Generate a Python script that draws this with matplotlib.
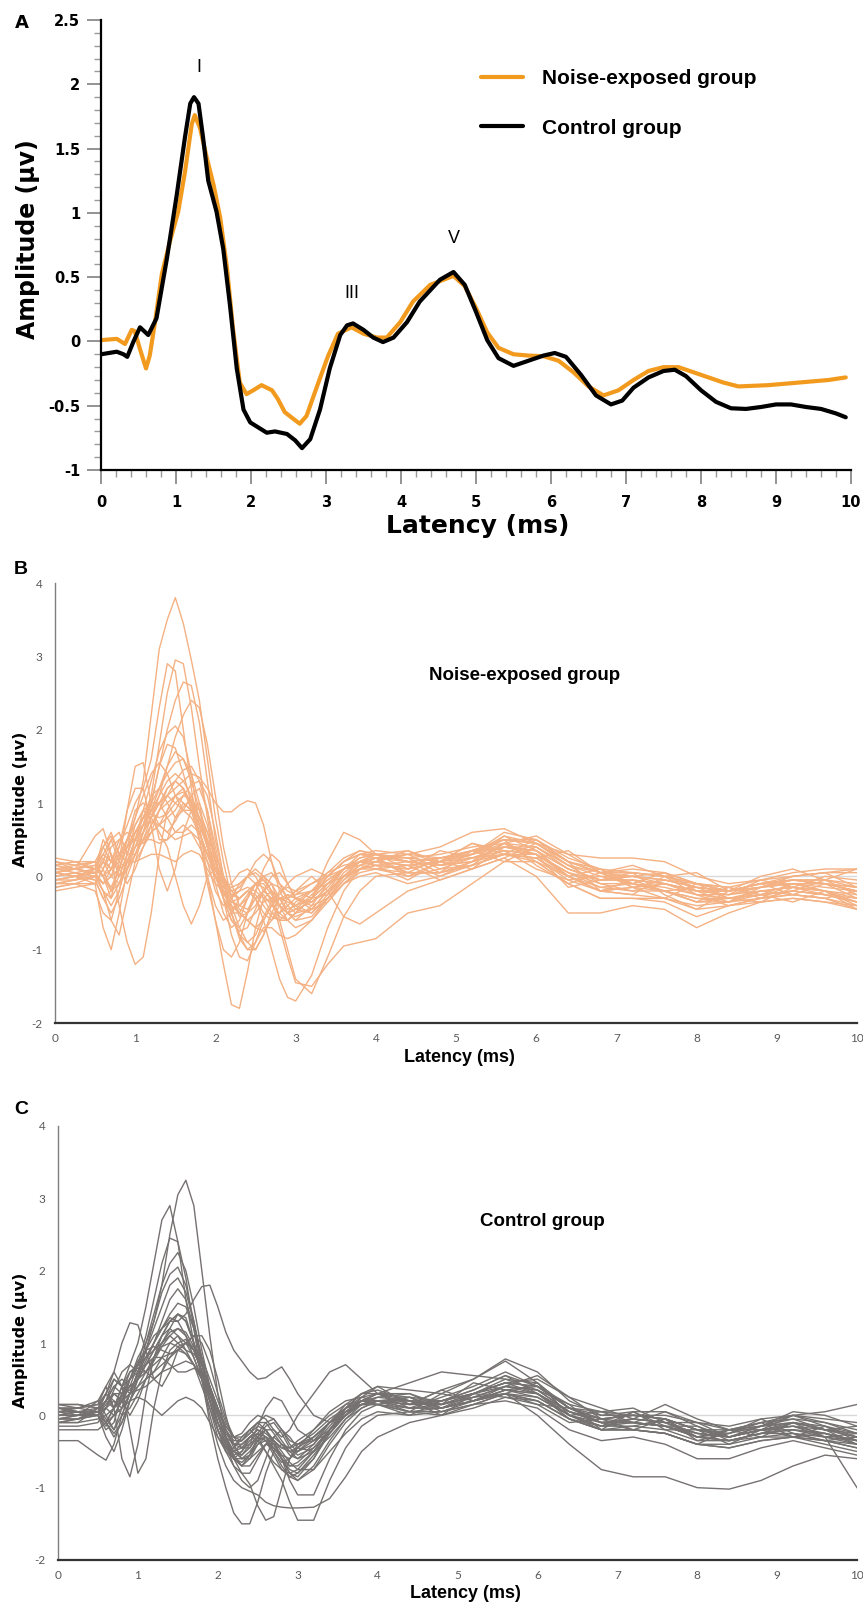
import numpy as np
import matplotlib
import matplotlib.pyplot as plt
from matplotlib.ticker import MultipleLocator, FuncFormatter

plt.rcParams['axes.unicode_minus'] = False

# --- panel A: grand average waveforms ---
ctrl_t = [0, 0.21, 0.30, 0.35, 0.43, 0.52, 0.63, 0.74, 0.88, 1.01,
          1.12, 1.19, 1.24, 1.30, 1.36, 1.43, 1.54, 1.63, 1.72, 1.81,
          1.90, 1.99, 2.10, 2.21, 2.32, 2.48, 2.59, 2.68, 2.79, 2.92,
          3.05, 3.19, 3.28, 3.36, 3.50, 3.63, 3.76, 3.90, 4.08, 4.25,
          4.52, 4.70, 4.85, 5.0, 5.15, 5.3, 5.5, 5.7, 5.9, 6.05,
          6.2, 6.4, 6.6, 6.8, 6.95, 7.1, 7.3, 7.5, 7.65, 7.8,
          8.0, 8.2, 8.4, 8.6, 8.8, 9.0, 9.2, 9.4, 9.6, 9.8, 9.93]
ctrl_v = [-0.10, -0.08, -0.10, -0.12, -0.005, 0.11, 0.05, 0.18, 0.65, 1.14,
          1.59, 1.85, 1.90, 1.85, 1.59, 1.25, 1.01, 0.72, 0.28, -0.21,
          -0.53, -0.63, -0.67, -0.71, -0.70, -0.72, -0.77, -0.83, -0.76, -0.53,
          -0.21, 0.05, 0.125, 0.14, 0.09, 0.03, -0.005, 0.03, 0.15, 0.31,
          0.48, 0.54, 0.44, 0.23, 0.01, -0.13, -0.19, -0.15, -0.11, -0.09,
          -0.12, -0.26, -0.42, -0.49, -0.46, -0.36, -0.28, -0.23, -0.22, -0.27,
          -0.38, -0.47, -0.52, -0.525, -0.51, -0.49, -0.49, -0.51, -0.525, -0.56, -0.59]

noise_t = [0, 0.21, 0.32, 0.41, 0.45, 0.52, 0.60, 0.65, 0.72, 0.81,
           0.92, 1.03, 1.12, 1.21, 1.25, 1.32, 1.41, 1.50, 1.59, 1.68,
           1.76, 1.85, 1.94, 2.03, 2.14, 2.28, 2.36, 2.45, 2.56, 2.65,
           2.74, 2.88, 3.03, 3.16, 3.34, 3.50, 3.68, 3.81, 3.99, 4.16,
           4.39, 4.70, 4.85, 5.0, 5.15, 5.3, 5.5, 5.7, 5.9, 6.1,
           6.3, 6.5, 6.7, 6.9, 7.1, 7.3, 7.5, 7.7, 7.9, 8.1,
           8.3, 8.5, 8.7, 8.9, 9.1, 9.3, 9.5, 9.7, 9.93]
noise_v = [0.01, 0.02, -0.02, 0.09, 0.08, -0.06, -0.21, -0.11, 0.15, 0.52,
           0.78, 1.01, 1.32, 1.69, 1.76, 1.66, 1.43, 1.22, 0.96, 0.57,
           0.10, -0.32, -0.41, -0.38, -0.34, -0.38, -0.45, -0.55, -0.60, -0.64,
           -0.58, -0.35, -0.11, 0.06, 0.11, 0.06, 0.03, 0.03, 0.15, 0.31,
           0.44, 0.51, 0.43, 0.26, 0.07, -0.05, -0.10, -0.11, -0.115, -0.15,
           -0.24, -0.35, -0.42, -0.38, -0.30, -0.23, -0.20, -0.20, -0.24, -0.28,
           -0.32, -0.35, -0.345, -0.34, -0.33, -0.32, -0.31, -0.30, -0.28]

wave_labels = ['I', 'III', 'V']
wave_pos = [(1.3, 2.13), (3.35, 0.37), (4.7, 0.80)]

# --- panels B and C: individual traces on a shared latency grid ---
t_grid = [0, 0.25, 0.5,
          0.6, 0.7, 0.8, 0.9, 1.0, 1.1, 1.2, 1.3, 1.4, 1.5, 1.6, 1.7, 1.8,
          1.9, 2.0, 2.1, 2.2, 2.3, 2.4, 2.5, 2.6, 2.7, 2.8, 2.9, 3.0,
          3.2, 3.4, 3.6, 3.8, 4.0,
          4.4, 4.8, 5.2, 5.6, 6.0, 6.4, 6.8, 7.2, 7.6, 8.0, 8.4, 8.8, 9.2, 9.6, 10.0]

noise_traces = [
    [0.05, 0.1, 0.15,
     0.3, 0.2, 0.1, 0.4, 0.8, 1.3, 2.2, 3.1, 3.5, 3.8, 3.45, 2.95, 2.4, 1.6, 0.8, 0.2, -0.3, -0.55, -0.5, -0.3, -0.25, -0.4, -0.5, -0.4, -0.3,
     -0.2, -0.1, 0.0, 0.1, 0.15,
     0.1, 0.2, 0.3, 0.45, 0.3, 0.05, -0.05, 0.0, -0.1, -0.2, -0.25, -0.15, -0.1, -0.1, -0.2],
    [0.1, 0.05, 0.0,
     -0.2, -0.4, -0.2, 0.2, 0.5, 0.7, 1.1, 1.8, 2.5, 2.95, 2.9, 2.3, 1.5, 0.8, 0.2, -0.3, -0.6, -0.7, -0.5, -0.2, 0.0, -0.1, -0.4, -0.6, -0.5,
     -0.3, -0.1, 0.1, 0.2, 0.25,
     0.0, 0.2, 0.45, 0.35, 0.1, -0.05, 0.0, -0.1, -0.2, -0.15, -0.3, -0.25, -0.1, -0.2, -0.35],
    [0.2, 0.15, 0.1,
     0.0, 0.1, 0.4, 0.7, 1.0, 1.2, 1.6, 2.3, 2.9, 2.8, 2.0, 1.2, 0.5, -0.1, -0.6, -1.0, -1.1, -0.9, -0.5, -0.2, 0.1, 0.3, 0.2, -0.1, -0.3,
     -0.35, -0.2, 0.0, 0.15, 0.2,
     0.35, 0.15, 0.2, 0.45, 0.55, 0.3, 0.05, -0.1, 0.05, -0.2, -0.35, -0.15, 0.0, 0.05, -0.15],
    [-0.05, 0.0, 0.05,
     0.2, 0.0, -0.1, 0.1, 0.4, 0.7, 1.0, 1.5, 2.0, 2.4, 2.65, 2.6, 2.1, 1.3, 0.5, 0.0, -0.2, -0.3, -0.2, -0.3, -0.6, -1.0, -1.4, -1.65, -1.7,
     -1.35, -0.7, -0.2, 0.1, 0.2,
     0.05, 0.05, 0.2, 0.35, 0.3, 0.0, -0.15, -0.1, -0.2, -0.35, -0.3, -0.25, -0.2, -0.25, -0.35],
    [0.0, 0.05, -0.05,
     -0.3, -0.5, -0.3, 0.0, 0.3, 0.5, 0.8, 1.1, 1.5, 1.9, 2.2, 2.4, 2.3, 1.8, 1.1, 0.4, -0.1, -0.4, -0.45, -0.3, -0.2, -0.3, -0.7, -1.1, -1.45,
     -1.5, -1.2, -0.95, -0.9, -0.85,
     -0.5, -0.4, -0.1, 0.2, 0.2, -0.1, -0.3, -0.3, -0.35, -0.55, -0.4, -0.3, -0.25, -0.3, -0.45],
    [0.15, 0.2, 0.1,
     0.4, 0.6, 0.3, 0.2, 0.5, 0.9, 1.3, 1.7, 1.95, 2.05, 1.9, 1.4, 0.7, 0.0, -0.6, -1.2, -1.75, -1.8, -1.3, -0.7, -0.3, -0.2, -0.3, -0.5, -0.6,
     -0.4, -0.1, 0.1, 0.2, 0.3,
     0.2, 0.15, 0.3, 0.55, 0.45, 0.2, 0.05, 0.1, 0.05, -0.1, -0.2, -0.1, 0.0, 0.05, 0.05],
    [-0.1, -0.05, 0.0,
     -0.2, -0.3, 0.2, 0.9, 1.5, 1.55, 1.0, 0.5, 0.5, 0.8, 1.0, 0.9, 0.5, 0.0, -0.4, -0.6, -0.5, -0.3, -0.2, -0.3, -0.5, -0.6, -0.5, -0.3, -0.2,
     -0.1, 0.0, 0.2, 0.3, 0.25,
     0.25, 0.05, 0.35, 0.5, 0.15, -0.1, 0.05, -0.15, -0.3, -0.1, -0.15, -0.3, -0.2, -0.05, -0.25],
    [0.05, 0.1, 0.55,
     0.65, 0.3, -0.4, -0.9, -1.2, -1.1, -0.5, 0.3, 0.9, 1.1, 1.0, 0.9, 0.7, 0.4, 0.1, -0.2, -0.5, -0.8, -1.0, -1.0, -0.8, -0.5, -0.3, -0.3, -0.4,
     -0.5, -0.3, 0.0, 0.2, 0.3,
     0.2, 0.15, 0.2, 0.3, 0.25, 0.0, -0.2, -0.25, -0.3, -0.4, -0.35, -0.3, -0.25, -0.3, -0.4],
    [-0.2, -0.15, -0.1,
     -0.7, -1.0, -0.5, 0.1, 0.5, 0.8, 1.1, 1.2, 1.0, 0.8, 0.9, 1.1, 1.2, 0.9, 0.3, -0.3, -0.8, -1.1, -1.15, -0.9, -0.6, -0.4, -0.4, -0.5, -0.6,
     -0.55, -0.3, -0.05, 0.1, 0.15,
     -0.05, 0.2, 0.1, 0.25, 0.45, 0.2, -0.2, -0.25, 0.0, -0.25, -0.4, -0.3, -0.1, -0.2, -0.45],
    [0.1, 0.1, 0.2,
     0.1, -0.2, -0.1, 0.2, 0.4, 0.6, 0.8, 1.0, 1.1, 1.2, 1.3, 1.4, 1.35, 1.2, 1.0, 0.88, 0.88, 0.97, 1.03, 1.0, 0.7, 0.2, -0.2, -0.4, -0.5,
     -0.45, -0.2, 0.1, 0.25, 0.3,
     0.25, 0.2, 0.35, 0.5, 0.45, 0.15, 0.05, 0.0, -0.05, -0.15, -0.2, -0.15, -0.05, -0.1, -0.15],
    [0.05, 0.0, 0.1,
     0.5, 0.3, 0.0, 0.1, 0.3, 0.5, 0.6, 0.7, 0.9, 1.1, 1.2, 1.0, 0.6, 0.2, -0.2, -0.4, -0.3, -0.1, 0.0, -0.1, -0.3, -0.5, -0.6, -0.6, -0.5,
     -0.3, 0.2, 0.6, 0.5, 0.3,
     0.2, 0.25, 0.3, 0.6, 0.5, 0.2, 0.05, 0.05, 0.0, -0.1, -0.15, -0.05, 0.0, 0.05, 0.1],
    [-0.1, -0.1, 0.0,
     0.2, 0.1, 0.2, 0.5, 0.7, 0.9, 1.0, 1.0, 0.8, 0.6, 0.6, 0.7, 0.6, 0.3, 0.0, -0.2, -0.3, -0.2, 0.0, 0.2, 0.3, 0.2, -0.1, -0.3, -0.2,
     0.0, -0.2, -0.55, -0.65, -0.5,
     -0.2, -0.05, 0.1, 0.25, 0.0, -0.5, -0.5, -0.4, -0.45, -0.7, -0.5, -0.35, -0.3, -0.35, -0.45],
    [0.15, 0.2, 0.1,
     0.0, 0.2, 0.5, 0.6, 0.5, 0.6, 0.8, 1.0, 1.2, 1.3, 1.2, 0.9, 0.6, 0.3, 0.0, -0.15, -0.1, 0.05, 0.1, 0.0, -0.2, -0.3, -0.25, -0.1, 0.0,
     0.1, 0.0, 0.1, 0.3, 0.35,
     0.3, 0.4, 0.6, 0.65, 0.45, 0.3, 0.25, 0.25, 0.2, 0.0, -0.1, -0.05, 0.05, 0.1, 0.1],
    [0.0, 0.05, 0.0,
     -0.1, 0.0, 0.1, 0.2, 0.2, 0.25, 0.3, 0.3, 0.25, 0.2, 0.3, 0.35, 0.3, 0.1, -0.1, -0.2, -0.25, -0.2, -0.15, -0.2, -0.3, -0.35, -0.3, -0.25, -0.3,
     -0.35, -0.2, 0.0, 0.1, 0.1,
     0.15, -0.05, 0.1, 0.4, 0.3, -0.15, -0.05, 0.05, -0.25, -0.45, -0.2, -0.1, -0.25, -0.3, -0.2],
    [0.2, 0.15, 0.2,
     0.4, 0.2, 0.4, 0.9, 1.2, 1.2, 0.7, 0.1, -0.2, 0.1, 0.6, 0.9, 1.0, 0.7, 0.2, -0.2, -0.4, -0.5, -0.6, -0.7, -0.6, -0.4, -0.2, -0.15, -0.2,
     -0.3, -0.25, 0.0, 0.2, 0.2,
     0.15, 0.2, 0.25, 0.4, 0.35, 0.1, -0.05, -0.05, -0.1, -0.2, -0.2, -0.1, -0.05, -0.1, -0.15],
    [-0.15, -0.1, -0.2,
     -0.5, -0.6, -0.2, 0.3, 0.7, 0.9, 0.8, 0.6, 0.4, 0.0, -0.4, -0.65, -0.4, 0.0, 0.1, -0.1, -0.4, -0.7, -0.9, -1.0, -0.8, -0.5, -0.5, -0.6, -0.7,
     -0.6, -0.3, -0.1, 0.0, 0.05,
     -0.1, 0.0, 0.15, 0.3, 0.25, -0.05, -0.2, -0.15, -0.2, -0.35, -0.35, -0.25, -0.2, -0.25, -0.35],
    [0.1, 0.1, 0.15,
     0.0, -0.2, 0.0, 0.3, 0.6, 0.8, 1.0, 1.2, 1.4, 1.55, 1.6, 1.4, 1.0, 0.4, -0.1, -0.5, -0.7, -0.6, -0.3, -0.1, 0.0, -0.1, -0.3, -0.45, -0.4,
     -0.2, 0.0, 0.2, 0.35, 0.3,
     0.1, 0.35, 0.25, 0.3, 0.5, 0.2, 0.1, -0.15, -0.05, -0.1, -0.3, -0.35, -0.15, 0.0, -0.05],
    [-0.05, 0.0, 0.1,
     0.3, 0.5, 0.2, 0.1, 0.3, 0.6, 1.0, 1.5, 1.8, 1.75, 1.4, 1.0, 0.7, 0.5, 0.3, 0.0, -0.3, -0.5, -0.6, -0.5, -0.35, -0.3, -0.4, -0.5, -0.45,
     -0.25, -0.05, 0.1, 0.15, 0.1,
     0.0, 0.1, 0.25, 0.35, 0.3, 0.05, -0.1, -0.1, -0.15, -0.25, -0.3, -0.2, -0.15, -0.2, -0.25],
    [0.05, 0.1, 0.05,
     -0.1, 0.1, 0.3, 0.2, 0.2, 0.4, 0.6, 0.7, 0.8, 0.9, 1.1, 1.25, 1.3, 1.1, 0.6, 0.0, -0.5, -0.85, -1.0, -0.9, -0.7, -0.7, -0.8, -0.85, -0.8,
     -0.6, -0.35, -0.1, 0.05, 0.1,
     0.05, 0.05, 0.15, 0.3, 0.3, 0.05, -0.15, -0.2, -0.2, -0.3, -0.3, -0.25, -0.2, -0.25, -0.3],
    [0.25, 0.2, 0.2,
     0.0, -0.3, -0.1, 0.2, 0.4, 0.5, 0.5, 0.45, 0.5, 0.6, 0.7, 0.6, 0.4, 0.2, 0.0, -0.2, -0.35, -0.4, -0.3, -0.1, 0.0, 0.05, -0.1, -0.2, -0.25,
     -0.2, -0.05, 0.1, 0.25, 0.3,
     0.35, 0.2, 0.45, 0.3, 0.25, 0.35, 0.05, 0.15, 0.0, 0.05, -0.2, 0.0, 0.1, -0.05, 0.1],
    [0.05, 0.0, -0.1,
     0.1, 0.4, 0.5, 0.4, 0.5, 0.7, 0.9, 1.1, 1.3, 1.4, 1.3, 1.1, 0.8, 0.4, 0.0, -0.3, -0.5, -0.5, -0.3, -0.1, -0.05, -0.2, -0.6, -1.0, -1.4,
     -1.6, -1.1, -0.55, -0.2, 0.0,
     0.05, 0.05, 0.15, 0.3, 0.2, -0.1, -0.3, -0.3, -0.3, -0.45, -0.4, -0.35, -0.3, -0.35, -0.4],
    [-0.1, -0.05, 0.1,
     0.3, 0.2, 0.3, 0.5, 0.8, 1.1, 1.4, 1.55, 1.4, 1.1, 0.9, 0.9, 0.8, 0.5, 0.1, -0.3, -0.6, -0.75, -0.7, -0.45, -0.2, 0.0, 0.05, -0.1, -0.3,
     -0.4, -0.3, -0.05, 0.15, 0.25,
     0.3, 0.25, 0.3, 0.5, 0.5, 0.25, 0.1, 0.05, 0.0, -0.1, -0.2, -0.15, -0.1, -0.15, -0.2],
    [0.0, 0.05, 0.1,
     0.4, 0.55, 0.3, 0.4, 0.6, 0.8, 0.9, 1.0, 1.1, 1.0, 0.9, 0.8, 0.6, 0.3, 0.0, -0.25, -0.35, -0.3, -0.2, -0.25, -0.4, -0.55, -0.6, -0.5, -0.35,
     -0.2, 0.05, 0.25, 0.35, 0.3,
     0.25, 0.3, 0.4, 0.45, 0.4, 0.15, 0.0, 0.0, 0.05, -0.1, -0.2, -0.1, -0.05, -0.1, -0.2],
    [0.2, 0.1, 0.05,
     -0.2, -0.6, -0.8, -0.3, 0.2, 0.6, 0.9, 1.2, 1.5, 1.7, 1.6, 1.3, 0.9, 0.5, 0.1, -0.2, -0.4, -0.5, -0.6, -0.7, -0.75, -0.6, -0.4, -0.25, -0.3,
     -0.45, -0.35, -0.1, 0.1, 0.2,
     0.3, 0.1, 0.15, 0.45, 0.2, 0.0, -0.2, -0.05, -0.2, -0.35, -0.15, -0.25, -0.35, -0.2, -0.4],
    [-0.05, -0.05, 0.0,
     0.2, 0.5, 0.6, 0.3, 0.3, 0.5, 0.7, 0.9, 1.0, 1.1, 1.15, 1.0, 0.8, 0.6, 0.3, 0.0, -0.2, -0.15, 0.0, 0.1, 0.0, -0.2, -0.4, -0.5, -0.45,
     -0.35, -0.15, 0.1, 0.2, 0.15,
     0.1, 0.2, 0.35, 0.4, 0.35, 0.0, -0.2, -0.15, -0.1, -0.25, -0.25, -0.2, -0.15, -0.2, -0.3],
    [0.1, 0.15, 0.2,
     0.0, -0.15, 0.1, 0.5, 0.9, 1.0, 0.9, 0.7, 0.6, 0.75, 0.95, 1.05, 0.9, 0.6, 0.2, -0.1, -0.3, -0.45, -0.5, -0.4, -0.2, -0.1, -0.15, -0.3, -0.45,
     -0.5, -0.25, 0.05, 0.2, 0.25,
     0.2, 0.15, 0.25, 0.4, 0.4, 0.1, -0.05, -0.05, -0.1, -0.2, -0.2, -0.15, -0.05, -0.05, -0.1],
    [-0.15, -0.1, -0.1,
     0.1, 0.3, 0.1, -0.1, 0.1, 0.4, 0.7, 0.9, 1.1, 1.3, 1.45, 1.5, 1.3, 0.9, 0.4, -0.1, -0.5, -0.8, -0.9, -0.8, -0.55, -0.35, -0.3, -0.35, -0.4,
     -0.3, -0.1, 0.1, 0.2, 0.25,
     0.05, 0.25, 0.35, 0.2, 0.4, 0.15, -0.1, -0.2, -0.1, -0.2, -0.25, -0.05, -0.15, -0.25, -0.35],
    [0.05, 0.0, 0.05,
     0.25, 0.1, 0.0, 0.3, 0.6, 0.8, 0.85, 0.8, 0.85, 1.0, 1.1, 1.05, 0.8, 0.4, 0.0, -0.3, -0.45, -0.4, -0.25, -0.1, -0.15, -0.35, -0.55, -0.6, -0.5,
     -0.3, 0.0, 0.2, 0.3, 0.3,
     0.2, 0.25, 0.35, 0.5, 0.45, 0.2, 0.05, 0.05, 0.0, -0.15, -0.2, -0.1, -0.05, -0.05, -0.15],
    [0.15, 0.1, 0.05,
     -0.1, 0.0, 0.3, 0.5, 0.5, 0.45, 0.6, 0.9, 1.2, 1.3, 1.2, 0.95, 0.7, 0.45, 0.2, -0.05, -0.25, -0.3, -0.2, -0.1, -0.1, -0.25, -0.4, -0.5, -0.55,
     -0.45, -0.2, 0.0, 0.1, 0.15,
     0.2, 0.0, 0.2, 0.55, 0.35, 0.0, 0.1, -0.1, -0.2, -0.3, -0.35, -0.2, -0.25, -0.1, -0.3],
    [-0.05, 0.0, -0.05,
     -0.3, -0.2, 0.1, 0.4, 0.6, 0.7, 0.75, 0.7, 0.6, 0.5, 0.55, 0.6, 0.5, 0.3, 0.1, -0.1, -0.15, -0.1, 0.0, 0.05, -0.05, -0.2, -0.3, -0.3, -0.25,
     -0.1, 0.05, 0.15, 0.2, 0.2,
     0.15, 0.2, 0.3, 0.4, 0.35, 0.1, -0.05, 0.0, -0.05, -0.15, -0.2, -0.1, -0.1, -0.1, -0.2],
]

control_traces = [
    [-0.1, -0.05, 0.1,
     0.3, 0.1, 0.2, 0.5, 0.8, 1.0, 1.3, 1.8, 2.5, 3.05, 3.25, 2.9, 2.0, 1.1, 0.3, -0.3, -0.6, -0.7, -0.55, -0.3, -0.2, -0.35, -0.6, -0.8, -0.85,
     -0.6, -0.2, 0.1, 0.3, 0.35,
     0.2, 0.2, 0.35, 0.55, 0.4, 0.1, 0.0, 0.0, -0.05, -0.2, -0.3, -0.15, -0.1, -0.15, -0.25],
    [0.1, 0.05, 0.0,
     -0.1, 0.1, 0.4, 0.7, 1.0, 1.5, 2.1, 2.7, 2.9, 2.4, 1.6, 1.0, 0.6, 0.3, 0.0, -0.3, -0.6, -0.8, -0.8, -0.6, -0.4, -0.3, -0.4, -0.55, -0.6,
     -0.5, -0.2, 0.1, 0.3, 0.4,
     0.15, 0.35, 0.5, 0.75, 0.45, 0.0, -0.15, 0.05, -0.15, -0.3, -0.2, -0.15, -0.05, -0.2, -0.25],
    [-0.05, 0.0, 0.05,
     0.2, 0.4, 0.3, 0.4, 0.7, 1.1, 1.6, 2.1, 2.45, 2.4, 1.9, 1.2, 0.5, -0.1, -0.6, -1.0, -1.35, -1.5, -1.5, -1.2, -0.8, -0.5, -0.4, -0.5, -0.6,
     -0.4, -0.1, 0.15, 0.3, 0.3,
     0.3, 0.1, 0.2, 0.4, 0.55, 0.25, -0.05, -0.1, 0.05, -0.15, -0.3, -0.2, 0.0, -0.15, -0.3],
    [0.0, 0.05, 0.0,
     -0.3, -0.5, -0.2, 0.2, 0.5, 0.9, 1.3, 1.7, 1.95, 2.05, 1.8, 1.3, 0.7, 0.2, -0.2, -0.5, -0.7, -0.8, -0.95, -1.25, -1.45, -1.4, -1.0, -0.6, -0.4,
     -0.35, -0.2, 0.0, 0.2, 0.3,
     0.2, 0.15, 0.25, 0.4, 0.35, 0.05, -0.1, -0.1, -0.15, -0.3, -0.35, -0.25, -0.2, -0.25, -0.35],
    [0.15, 0.1, 0.15,
     0.3, 0.5, 0.4, 0.5, 0.7, 0.9, 1.1, 1.2, 1.3, 1.3, 1.4, 1.6, 1.78, 1.8, 1.5, 1.15, 0.9, 0.75, 0.6, 0.5, 0.52, 0.6, 0.67, 0.5, 0.3,
     0.0, -0.1, 0.0, 0.2, 0.3,
     0.45, 0.6, 0.55, 0.5, 0.35, 0.15, 0.05, 0.0, 0.0, -0.1, -0.15, -0.05, 0.0, 0.05, 0.15],
    [-0.1, -0.1, 0.1,
     0.3, 0.6, 1.0, 1.28, 1.25, 0.9, 0.5, 0.4, 0.6, 0.9, 1.0, 0.9, 0.6, 0.2, -0.2, -0.5, -0.6, -0.5, -0.3, -0.2, -0.3, -0.5, -0.65, -0.6, -0.45,
     -0.2, 0.05, 0.2, 0.25, 0.2,
     0.2, 0.0, 0.3, 0.25, 0.15, 0.1, -0.1, -0.2, -0.05, -0.3, -0.2, -0.3, -0.1, -0.2, -0.4],
    [0.0, 0.0, 0.2,
     0.4, 0.1, -0.6, -0.85, -0.4, 0.3, 0.8, 1.1, 1.2, 1.1, 0.9, 0.7, 0.5, 0.2, -0.1, -0.3, -0.4, -0.35, -0.2, -0.1, -0.2, -0.4, -0.55, -0.6, -0.5,
     -0.3, -0.1, 0.05, 0.15, 0.15,
     0.0, 0.2, 0.35, 0.55, 0.3, -0.05, -0.2, 0.05, -0.2, -0.2, -0.4, -0.2, -0.15, -0.3, -0.25],
    [0.05, 0.05, 0.0,
     0.2, 0.5, 0.4, -0.2, -0.8, -0.6, 0.1, 0.6, 0.9, 1.0, 1.05, 0.9, 0.6, 0.3, 0.0, -0.3, -0.55, -0.7, -0.7, -0.55, -0.4, -0.4, -0.6, -0.9, -1.1,
     -1.1, -0.6, -0.2, 0.05, 0.15,
     0.05, 0.05, 0.2, 0.35, 0.3, 0.0, -0.2, -0.2, -0.25, -0.4, -0.45, -0.35, -0.3, -0.35, -0.45],
    [-0.35, -0.35, -0.55,
     -0.62, -0.4, 0.0, 0.3, 0.4, 0.5, 0.6, 0.8, 1.0, 1.1, 1.0, 0.8, 0.5, 0.1, -0.3, -0.5, -0.45, -0.3, -0.2, -0.3, -0.5, -0.7, -0.9, -1.2, -1.45,
     -1.45, -0.9, -0.45, -0.15, 0.0,
     0.05, 0.0, 0.15, 0.3, 0.2, -0.05, -0.2, -0.2, -0.25, -0.4, -0.4, -0.3, -0.3, -0.4, -0.5],
    [0.1, 0.1, 0.2,
     0.0, -0.2, 0.1, 0.5, 0.7, 0.8, 0.9, 1.0, 1.2, 1.4, 1.35, 1.0, 0.5, 0.0, -0.4, -0.7, -0.9, -1.0, -1.05, -1.1, -1.2, -1.25, -1.27, -1.28, -1.28,
     -1.27, -1.15, -0.85, -0.5, -0.3,
     -0.1, 0.0, 0.1, 0.25, 0.2, -0.05, -0.15, -0.15, -0.2, -0.35, -0.35, -0.3, -0.25, -0.3, -0.4],
    [0.15, 0.15, 0.1,
     0.2, 0.3, 0.2, 0.3, 0.5, 0.7, 0.9, 1.1, 1.3, 1.4, 1.3, 1.0, 0.7, 0.4, 0.1, -0.15, -0.3, -0.25, -0.1, 0.0, -0.05, -0.2, -0.3, -0.2, 0.0,
     0.3, 0.6, 0.7, 0.5, 0.3,
     0.15, 0.2, 0.3, 0.45, 0.3, 0.05, -0.05, 0.0, -0.05, -0.2, -0.2, -0.1, -0.05, -0.1, -0.2],
    [-0.05, -0.05, 0.0,
     0.1, 0.0, 0.2, 0.4, 0.5, 0.6, 0.7, 0.8, 0.85, 0.9, 0.85, 0.7, 0.4, 0.1, -0.2, -0.4, -0.5, -0.45, -0.3, -0.2, -0.25, -0.35, -0.45, -0.5, -0.45,
     -0.3, -0.1, 0.05, 0.15, 0.2,
     0.1, 0.15, 0.25, 0.3, 0.0, -0.4, -0.75, -0.85, -0.85, -1.0, -1.02, -0.9, -0.7, -0.55, -0.6],
    [0.0, 0.05, 0.1,
     -0.05, -0.2, 0.0, 0.3, 0.6, 0.8, 1.0, 1.2, 1.4, 1.55, 1.5, 1.2, 0.8, 0.3, -0.1, -0.4, -0.55, -0.5, -0.35, -0.25, -0.3, -0.45, -0.6, -0.7, -0.65,
     -0.45, -0.2, 0.0, 0.15, 0.2,
     0.1, 0.1, 0.25, 0.4, 0.35, 0.05, -0.1, -0.05, -0.1, -0.25, -0.3, -0.2, -0.1, -0.3, -1.0],
    [-0.15, -0.15, -0.1,
     0.1, 0.3, 0.2, 0.0, 0.2, 0.5, 0.8, 1.0, 1.1, 1.0, 0.9, 0.85, 0.7, 0.4, 0.0, -0.35, -0.6, -0.7, -0.6, -0.4, -0.3, -0.35, -0.5, -0.65, -0.75,
     -0.75, -0.5, -0.25, -0.05, 0.05,
     0.0, 0.05, 0.15, 0.2, 0.1, -0.2, -0.35, -0.3, -0.4, -0.6, -0.6, -0.45, -0.35, -0.45, -0.55],
    [0.05, 0.1, 0.15,
     0.4, 0.6, 0.4, 0.3, 0.6, 1.0, 1.4, 1.8, 2.1, 2.25, 2.0, 1.5, 0.9, 0.4, 0.0, -0.3, -0.5, -0.55, -0.4, -0.15, 0.1, 0.25, 0.2, 0.0, -0.2,
     -0.35, -0.25, 0.0, 0.25, 0.4,
     0.35, 0.3, 0.5, 0.78, 0.6, 0.2, 0.0, 0.05, 0.05, -0.1, -0.2, -0.1, 0.0, -0.05, -0.1],
    [-0.2, -0.2, -0.2,
     -0.1, 0.0, 0.1, 0.2, 0.25, 0.2, 0.1, 0.0, 0.1, 0.2, 0.25, 0.2, 0.1, -0.1, -0.3, -0.45, -0.5, -0.4, -0.3, -0.35, -0.5, -0.65, -0.75, -0.8, -0.75,
     -0.5, -0.2, 0.05, 0.15, 0.15,
     0.05, 0.1, 0.2, 0.3, 0.2, -0.05, -0.2, -0.2, -0.25, -0.4, -0.45, -0.35, -0.3, -0.35, -0.4],
    [0.1, 0.05, 0.0,
     -0.2, -0.1, 0.3, 0.6, 0.7, 0.6, 0.5, 0.6, 0.8, 0.95, 1.0, 0.95, 0.8, 0.5, 0.2, -0.1, -0.3, -0.35, -0.25, -0.1, 0.0, -0.05, -0.2, -0.35, -0.4,
     -0.3, -0.1, 0.1, 0.2, 0.2,
     0.25, 0.1, 0.3, 0.45, 0.5, 0.25, 0.1, -0.05, 0.15, -0.05, -0.2, -0.15, 0.05, 0.0, -0.15],
    [-0.1, -0.1, -0.05,
     0.0, 0.1, 0.3, 0.5, 0.6, 0.8, 1.0, 1.2, 1.35, 1.3, 1.1, 0.8, 0.5, 0.2, -0.1, -0.4, -0.7, -0.9, -1.0, -0.9, -0.6, -0.3, -0.2, -0.3, -0.45,
     -0.5, -0.3, -0.05, 0.15, 0.25,
     0.2, 0.15, 0.3, 0.45, 0.4, 0.1, -0.05, 0.0, -0.05, -0.2, -0.25, -0.15, -0.1, -0.2, -0.3],
    [0.05, 0.05, 0.0,
     0.1, 0.2, 0.0, 0.1, 0.3, 0.5, 0.6, 0.7, 0.8, 0.9, 1.0, 1.1, 1.1, 0.9, 0.5, 0.0, -0.4, -0.6, -0.55, -0.35, -0.2, -0.2, -0.35, -0.5, -0.5,
     -0.35, -0.1, 0.1, 0.2, 0.2,
     0.05, 0.3, 0.2, 0.35, 0.4, 0.15, -0.2, -0.15, -0.05, -0.35, -0.25, -0.1, -0.3, -0.25, -0.4],
    [0.15, 0.15, 0.1,
     -0.1, -0.3, -0.1, 0.2, 0.5, 0.7, 0.8, 0.8, 0.7, 0.6, 0.6, 0.65, 0.6, 0.4, 0.1, -0.2, -0.4, -0.45, -0.4, -0.3, -0.35, -0.5, -0.7, -0.85, -0.9,
     -0.7, -0.35, -0.05, 0.1, 0.2,
     0.2, 0.1, 0.2, 0.35, 0.3, 0.05, -0.1, -0.1, -0.15, -0.3, -0.35, -0.25, -0.2, -0.3, -0.35],
    [0.05, 0.0, 0.0,
     0.2, 0.4, 0.5, 0.4, 0.5, 0.7, 0.9, 1.1, 1.3, 1.4, 1.3, 1.0, 0.6, 0.2, -0.2, -0.45, -0.6, -0.6, -0.5, -0.35, -0.3, -0.4, -0.55, -0.7, -0.7,
     -0.5, -0.2, 0.05, 0.2, 0.25,
     0.3, 0.15, 0.45, 0.35, 0.25, 0.0, 0.05, -0.1, -0.15, -0.15, -0.35, -0.25, -0.1, -0.2, -0.15],
    [-0.05, -0.05, 0.05,
     0.3, 0.2, 0.1, 0.3, 0.6, 0.9, 1.2, 1.5, 1.8, 1.9, 1.7, 1.3, 0.8, 0.3, -0.1, -0.4, -0.6, -0.65, -0.55, -0.4, -0.35, -0.45, -0.6, -0.75, -0.8,
     -0.6, -0.25, 0.05, 0.2, 0.3,
     0.25, 0.2, 0.3, 0.5, 0.45, 0.1, -0.05, 0.0, -0.05, -0.2, -0.3, -0.2, -0.15, -0.2, -0.3],
    [0.1, 0.05, 0.05,
     0.2, 0.1, 0.25, 0.5, 0.75, 0.9, 0.95, 0.9, 0.85, 0.9, 1.0, 1.1, 1.0, 0.7, 0.3, -0.05, -0.3, -0.45, -0.45, -0.3, -0.15, -0.1, -0.25, -0.45, -0.55,
     -0.45, -0.2, 0.05, 0.2, 0.2,
     0.15, 0.35, 0.2, 0.3, 0.45, 0.0, -0.15, -0.05, -0.1, -0.3, -0.25, -0.05, -0.25, -0.35, -0.3],
    [-0.1, -0.05, 0.0,
     -0.1, 0.1, 0.4, 0.6, 0.65, 0.7, 0.8, 1.0, 1.15, 1.2, 1.1, 0.9, 0.6, 0.3, 0.0, -0.25, -0.4, -0.4, -0.3, -0.25, -0.35, -0.55, -0.75, -0.85, -0.8,
     -0.55, -0.25, 0.0, 0.15, 0.2,
     0.15, 0.2, 0.3, 0.4, 0.3, 0.0, -0.15, -0.1, -0.15, -0.3, -0.35, -0.25, -0.25, -0.35, -0.45],
    [0.0, 0.0, 0.05,
     0.1, 0.35, 0.6, 0.7, 0.6, 0.6, 0.75, 0.95, 1.1, 1.2, 1.15, 0.95, 0.7, 0.4, 0.1, -0.2, -0.45, -0.55, -0.45, -0.25, -0.1, -0.05, -0.2, -0.4, -0.5,
     -0.4, -0.15, 0.1, 0.25, 0.3,
     0.1, 0.25, 0.4, 0.6, 0.4, 0.1, 0.05, 0.1, -0.1, -0.1, -0.3, -0.15, 0.0, -0.1, -0.25],
    [0.1, 0.1, 0.05,
     -0.1, -0.25, -0.1, 0.2, 0.4, 0.6, 0.8, 0.95, 1.0, 0.95, 0.85, 0.7, 0.5, 0.3, 0.05, -0.2, -0.35, -0.35, -0.25, -0.15, -0.2, -0.35, -0.45, -0.45, -0.35,
     -0.2, 0.0, 0.15, 0.2, 0.15,
     0.25, 0.05, 0.15, 0.3, 0.15, -0.1, -0.05, -0.2, -0.25, -0.4, -0.2, -0.2, -0.3, -0.15, -0.35],
    [-0.05, 0.0, 0.0,
     0.15, 0.3, 0.3, 0.35, 0.55, 0.75, 1.0, 1.3, 1.6, 1.75, 1.6, 1.2, 0.7, 0.3, 0.0, -0.3, -0.5, -0.6, -0.6, -0.5, -0.4, -0.45, -0.6, -0.8, -0.9,
     -0.75, -0.4, -0.1, 0.1, 0.2,
     0.15, 0.15, 0.3, 0.45, 0.4, 0.1, -0.1, -0.05, -0.1, -0.25, -0.3, -0.2, -0.15, -0.25, -0.35],
    [0.0, 0.05, 0.0,
     -0.15, 0.0, 0.2, 0.3, 0.35, 0.4, 0.5, 0.6, 0.65, 0.7, 0.75, 0.7, 0.55, 0.35, 0.1, -0.15, -0.3, -0.3, -0.2, -0.1, -0.1, -0.25, -0.4, -0.45, -0.4,
     -0.25, -0.05, 0.1, 0.15, 0.15,
     0.1, 0.1, 0.2, 0.3, 0.25, 0.0, -0.1, -0.1, -0.15, -0.25, -0.3, -0.2, -0.2, -0.25, -0.35],
]

for tr in noise_traces + control_traces:
    if len(tr) != len(t_grid):
        raise ValueError('trace length %d' % len(tr))

orange = '#F29A1E'
trace_orange = '#F4B183'
trace_gray = '#767171'

fig = plt.figure(figsize=(8.63, 16.04), dpi=100)
W, H = 863.0, 1604.0


def box(x0, y0, x1, y1):
    return [x0 / W, 1 - y1 / H, (x1 - x0) / W, (y1 - y0) / H]


# ---------------- panel A ----------------
axA = fig.add_axes(box(101, 20, 851, 470))
l1, = axA.plot(noise_t, noise_v, color=orange, lw=3.0, solid_capstyle='round')
l2, = axA.plot(ctrl_t, ctrl_v, color='black', lw=3.0, solid_capstyle='round')
axA.set_xlim(0, 10)
axA.set_ylim(-1, 2.5)
for s in ['top', 'right']:
    axA.spines[s].set_visible(False)
for s in ['left', 'bottom']:
    axA.spines[s].set_linewidth(1.6)
axA.xaxis.set_major_locator(MultipleLocator(1))
axA.xaxis.set_minor_locator(MultipleLocator(0.2))
axA.yaxis.set_major_locator(MultipleLocator(0.5))
axA.yaxis.set_minor_locator(MultipleLocator(0.1))
axA.yaxis.set_major_formatter(FuncFormatter(lambda v, p: '%g' % v))
axA.tick_params(which='major', direction='out', length=10, width=1.2,
                color='#808080', labelsize=10.5, pad=5)
axA.tick_params(which='minor', direction='out', length=5, width=1.0, color='#9a9a9a')
axA.tick_params(axis='x', which='major', pad=8)
for lab in axA.get_xticklabels() + axA.get_yticklabels():
    lab.set_fontweight('bold')
for lab, (xv, yv) in zip(wave_labels, wave_pos):
    axA.text(xv, yv, lab, ha='center', va='center', fontsize=13,
             family='Liberation Sans')
leg = axA.legend([l1, l2], ['Noise-exposed group', 'Control group'],
                 loc='center left', bbox_to_anchor=(481 / W, 1 - 103.5 / H),
                 bbox_transform=fig.transFigure, frameon=False,
                 handlelength=2.0, handletextpad=0.95, labelspacing=1.45,
                 borderpad=0, borderaxespad=0,
                 prop={'family': 'Liberation Sans', 'weight': 'bold', 'size': 15})

fig.text(28 / W, 1 - 239 / H, 'Amplitude (\u00b5v)', rotation=90, ha='center',
         va='center', fontsize=17, fontweight='bold')
fig.text(478 / W, 1 - 526 / H, 'Latency (ms)', ha='center', va='center',
         fontsize=18, fontweight='bold')
fig.text(22 / W, 1 - 23 / H, 'A', ha='center', va='center', fontsize=13,
         fontweight='bold')


# ---------------- panels B and C ----------------
def trace_panel(ax, traces, color):
    ax.axhline(0, color='#d9d9d9', lw=1.0, zorder=1)
    for tr in traces:
        ax.plot(t_grid, tr, color=color, lw=1.0, zorder=2)
    ax.set_xlim(0, 10)
    ax.set_ylim(-2, 4)
    ax.set_xticks(range(0, 11))
    ax.set_yticks(range(-2, 5))
    for s in ['top', 'right']:
        ax.spines[s].set_visible(False)
    ax.spines['left'].set_color('#7f7f7f')
    ax.spines['left'].set_linewidth(1.0)
    ax.spines['bottom'].set_color('#333333')
    ax.spines['bottom'].set_linewidth(1.6)
    ax.tick_params(length=0, labelcolor='#595959', labelsize=8.5)
    ax.tick_params(axis='y', pad=9)
    ax.tick_params(axis='x', pad=7)
    for lab in ax.get_xticklabels() + ax.get_yticklabels():
        lab.set_family('Lato')


axB = fig.add_axes(box(55, 583, 857, 1023))
trace_panel(axB, noise_traces, trace_orange)
axC = fig.add_axes(box(58, 1126, 857, 1560))
trace_panel(axC, control_traces, trace_gray)

fig.text(21 / W, 1 - 799 / H, 'Amplitude (\u00b5v)', rotation=90, ha='center',
         va='center', fontsize=11.5, fontweight='bold')
fig.text(21 / W, 1 - 1340 / H, 'Amplitude (\u00b5v)', rotation=90, ha='center',
         va='center', fontsize=11.5, fontweight='bold')
fig.text(459 / W, 1 - 1057 / H, 'Latency (ms)', ha='center', va='center',
         fontsize=13, fontweight='bold', family='Liberation Sans')
fig.text(465 / W, 1 - 1593 / H, 'Latency (ms)', ha='center', va='center',
         fontsize=13, fontweight='bold', family='Liberation Sans')
fig.text(525 / W, 1 - 675 / H, 'Noise-exposed group', ha='center', va='center',
         fontsize=13.5, fontweight='bold', family='Liberation Sans')
fig.text(542 / W, 1 - 1221 / H, 'Control group', ha='center', va='center',
         fontsize=13.5, fontweight='bold', family='Liberation Sans')
fig.text(21 / W, 1 - 570 / H, 'B', ha='center', va='center', fontsize=14,
         fontweight='bold', family='Liberation Sans')
fig.text(21 / W, 1 - 1109 / H, 'C', ha='center', va='center', fontsize=14,
         fontweight='bold', family='Liberation Sans')

fig.savefig('out.png', dpi=100, facecolor='white')
